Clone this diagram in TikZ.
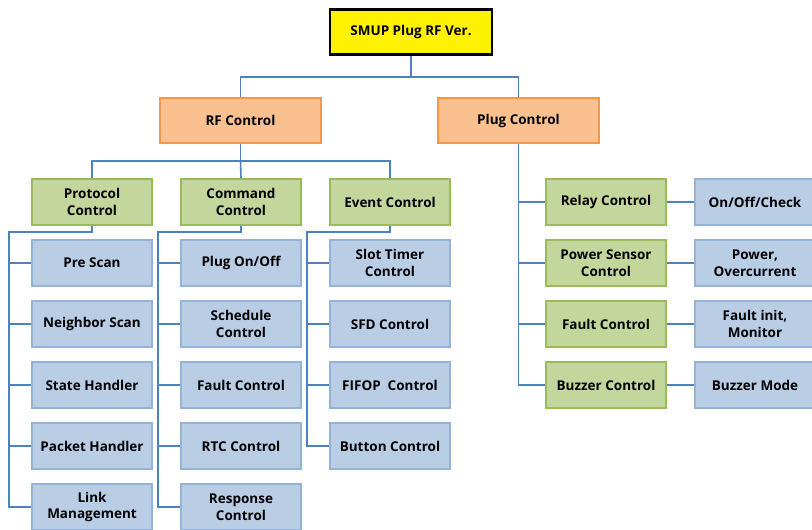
\documentclass[tikz,border=0pt]{standalone}
\usepackage{fontspec}
\setmainfont{Open Sans}
\begin{document}
\begin{tikzpicture}[x=1pt,y=-1pt,
  every node/.style={font=\bfseries\fontsize{13.5}{16.5}\selectfont, align=center, inner sep=0pt},
  rootbox/.style={draw=black, line width=2.5pt, fill=yellow, minimum width=162pt, minimum height=45pt},
  topbox/.style={draw={rgb,255:red,247;green,150;blue,70}, line width=2.2pt, fill={rgb,255:red,250;green,192;blue,144}, minimum width=161pt, minimum height=45pt},
  midbox/.style={draw={rgb,255:red,155;green,187;blue,89}, line width=1.8pt, fill={rgb,255:red,195;green,214;blue,155}, minimum width=120pt, minimum height=46pt},
  leafbox/.style={draw={rgb,255:red,149;green,179;blue,215}, line width=1.8pt, fill={rgb,255:red,185;green,205;blue,229}, minimum width=120pt, minimum height=46pt},
  link/.style={draw={rgb,255:red,79;green,129;blue,189}, line width=1.6pt}]
\useasboundingbox (0,0) rectangle (812,530);
\clip (0,0) rectangle (812,530);

% top levels
\node[rootbox] (root) at (411,32) {SMUP Plug RF Ver.};
\node[topbox] (rf) at (240.5,120.5) {RF Control};
\node[topbox] (plug) at (518.5,120.5) {Plug Control};

% RF branch
\node[midbox] (proto) at (92,202) {Protocol\\Control};
\node[midbox] (cmd) at (241,202) {Command\\Control};
\node[midbox] (evt) at (390,202) {Event Control};

\node[leafbox] (p1) at (92,263) {Pre Scan};
\node[leafbox] (p2) at (92,324) {Neighbor Scan};
\node[leafbox] (p3) at (92,385) {State Handler};
\node[leafbox] (p4) at (92,446) {Packet Handler};
\node[leafbox] (p5) at (92,507) {Link\\Management};

\node[leafbox] (c1) at (241,263) {Plug On/Off};
\node[leafbox] (c2) at (241,324) {Schedule\\Control};
\node[leafbox] (c3) at (241,385) {Fault Control};
\node[leafbox] (c4) at (241,446) {RTC Control};
\node[leafbox] (c5) at (241,507) {Response\\Control};

\node[leafbox] (e1) at (390,263) {Slot Timer\\Control};
\node[leafbox] (e2) at (390,324) {SFD Control};
\node[leafbox] (e3) at (390,385) {FIFOP~ Control};
\node[leafbox] (e4) at (390,446) {Button Control};

% Plug branch
\node[midbox] (g1) at (606,202) {Relay Control};
\node[midbox] (g2) at (606,263) {Power Sensor\\Control};
\node[midbox] (g3) at (606,324) {Fault Control};
\node[midbox] (g4) at (606,385) {Buzzer Control};

\node[leafbox] (r1) at (755,202) {On/Off/Check};
\node[leafbox] (r2) at (755,263) {Power,\\Overcurrent};
\node[leafbox] (r3) at (755,324) {Fault init,\\Monitor};
\node[leafbox] (r4) at (755,385) {Buzzer Mode};

% connectors
\draw[link] (root.south) -- ++(0,21) coordinate (j0) -| (rf.north);
\draw[link] (j0) -| (plug.north);
\draw[link] (rf.south) -- ++(0,17) coordinate (j1) -| (proto.north);
\draw[link] (j1) -| (evt.north);
\draw[link] (j1) -- (cmd.north);

\draw[link] (proto.south) -- ++(0,6) -| ([xshift=-22pt]p5.west) -- (p5.west);
\foreach \n in {p1,p2,p3,p4} \draw[link] ([xshift=-22pt]\n.west) -- (\n.west);
\draw[link] (cmd.south) -- ++(0,6) -| ([xshift=-22pt]c5.west) -- (c5.west);
\foreach \n in {c1,c2,c3,c4} \draw[link] ([xshift=-22pt]\n.west) -- (\n.west);
\draw[link] (evt.south) -- ++(0,6) -| ([xshift=-22pt]e4.west) -- (e4.west);
\foreach \n in {e1,e2,e3} \draw[link] ([xshift=-22pt]\n.west) -- (\n.west);

\draw[link] (plug.south) |- (g4.west);
\foreach \n in {g1,g2,g3} \draw[link] (plug.south |- \n.west) -- (\n.west);
\foreach \a/\b in {g1/r1,g2/r2,g3/r3,g4/r4} \draw[link] (\a.east) -- (\b.west);
\end{tikzpicture}
\end{document}
